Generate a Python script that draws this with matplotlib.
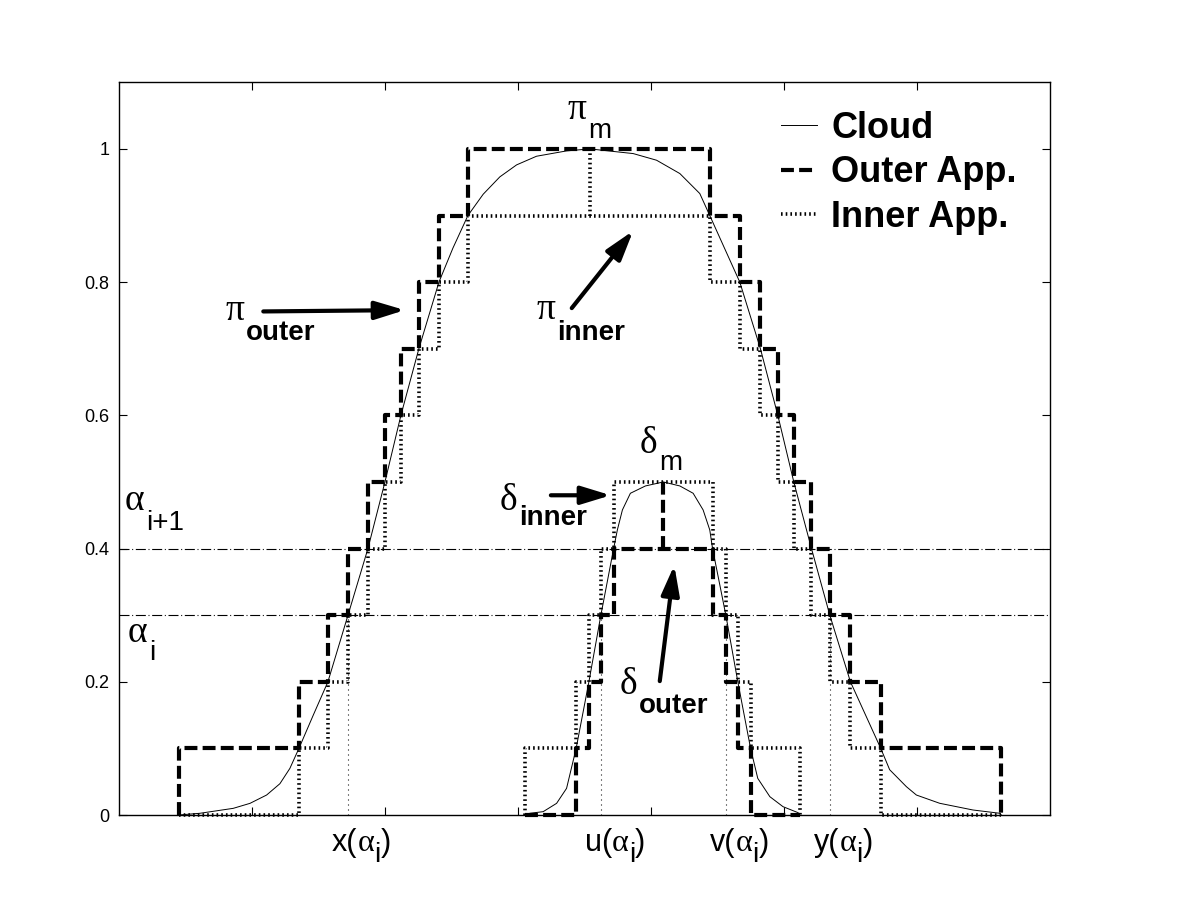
import matplotlib
matplotlib.use('Agg')
import matplotlib.pyplot as plt
from matplotlib.font_manager import FontProperties

# 절단 레벨 (0.1 간격)
levels_big = [0.0, 0.1, 0.2, 0.3, 0.4, 0.5, 0.6, 0.7, 0.8, 0.9]
levels_small = [0.0, 0.1, 0.2, 0.3, 0.4]

# 큰 구름(pi) : 각 레벨에서 곡선이 지나는 왼쪽/오른쪽 x
big_left = [0.449, 1.351, 1.569, 1.720, 1.870, 1.998, 2.118, 2.253, 2.404, 2.622]
big_right = [6.634, 5.727, 5.499, 5.344, 5.206, 5.073, 4.953, 4.822, 4.667, 4.441]
big_peak_x = 3.539
big_top = 1.0

# 작은 구름(delta)
small_left = [3.054, 3.436, 3.532, 3.622, 3.718]
small_right = [5.118, 4.748, 4.652, 4.562, 4.462]
small_peak_x = 4.092
small_top = 0.5

# 곡선 자체 (그림에서 읽은 점)
big_curve_x = [0.449, 0.607, 0.857, 0.983, 1.108, 1.208, 1.283, 1.351, 1.459, 1.569,
               1.720, 1.870, 1.998, 2.118, 2.253, 2.404, 2.509, 2.622, 2.737, 2.862,
               2.988, 3.138, 3.364, 3.539, 3.865, 4.041, 4.216, 4.366, 4.441, 4.667,
               4.822, 4.953, 5.073, 5.206, 5.344, 5.499, 5.727, 5.794, 5.920, 5.995,
               6.170, 6.421, 6.622, 6.634]
big_curve_y = [0.0, 0.0026, 0.010, 0.0175, 0.030, 0.047, 0.070, 0.1, 0.150, 0.2,
               0.3, 0.4, 0.5, 0.6, 0.7, 0.8, 0.851, 0.9, 0.932, 0.958,
               0.976, 0.989, 0.997, 1.0, 0.993, 0.983, 0.963, 0.933, 0.9, 0.8,
               0.7, 0.6, 0.5, 0.4, 0.3, 0.2, 0.1, 0.068, 0.0425, 0.030,
               0.0176, 0.0075, 0.0026, 0.0]
small_curve_x = [3.054, 3.088, 3.188, 3.289, 3.364, 3.436, 3.532, 3.622, 3.718, 3.746,
                 3.784, 3.844, 3.957, 4.092, 4.216, 4.316, 4.391, 4.441, 4.462, 4.562,
                 4.652, 4.748, 4.802, 4.893, 4.992, 5.105, 5.118]
small_curve_y = [0.0, 0.0026, 0.005, 0.0175, 0.04, 0.1, 0.2, 0.3, 0.4, 0.428,
                 0.458, 0.483, 0.494, 0.5, 0.494, 0.483, 0.458, 0.428, 0.4, 0.3,
                 0.2, 0.1, 0.055, 0.0275, 0.0125, 0.0035, 0.0]

alpha_i = 0.3
alpha_i1 = 0.4
cut_x = [1.720, 3.622, 4.562, 5.344]
cut_names = ['x', 'u', 'v', 'y']

y_ticks = [0, 0.2, 0.4, 0.6, 0.8, 1.0]
y_tick_labels = ['0', '0.2', '0.4', '0.6', '0.8', '1']
x_ticks = [1, 2, 3, 4, 5, 6]

SANS = ['Liberation Sans', 'DejaVu Sans']
SERIF = ['Liberation Serif', 'DejaVu Serif']


def upper_steps(left, right, lv, top):
    lv2 = list(lv) + [top]
    xs, ys = [], []
    for k in range(len(lv)):
        xs += [left[k], left[k]]
        ys += [lv2[k], lv2[k + 1]]
    for k in reversed(range(len(lv))):
        xs += [right[k], right[k]]
        ys += [lv2[k + 1], lv2[k]]
    return xs, ys


def lower_steps(left, right, lv):
    xs, ys = [left[0]], [lv[0]]
    for k in range(1, len(lv)):
        xs += [left[k], left[k]]
        ys += [lv[k - 1], lv[k]]
    for k in reversed(range(1, len(lv))):
        xs += [right[k], right[k]]
        ys += [lv[k], lv[k - 1]]
    xs.append(right[0])
    ys.append(lv[0])
    return xs, ys


dash_style = dict(color='k', lw=3.0, linestyle=(0, (3.1, 1.25)), clip_on=False)
dot_style = dict(color='k', lw=2.6, linestyle=(0, (0.45, 0.85)), clip_on=False)

fig = plt.figure(figsize=(12.01, 9.0), dpi=100)
ax = fig.add_axes([119.3 / 1201, 85 / 900, 930.7 / 1201, 732.7 / 900])

# 알파 절단선
ax.axhline(alpha_i1, color='k', lw=0.8, linestyle=(0, (9, 2.4, 0.9, 2.4)))
ax.axhline(alpha_i, color='k', lw=0.8, linestyle=(0, (9, 2.4, 0.9, 2.4)))

# 구름 곡선
cloud_line, = ax.plot(big_curve_x, big_curve_y, color='k', lw=0.7)
ax.plot(small_curve_x, small_curve_y, color='k', lw=0.7)

# 큰 구름: 바깥 근사(굵은 점선) / 안쪽 근사(점)
xs, ys = upper_steps(big_left, big_right, levels_big, big_top)
outer_line, = ax.plot(xs, ys, **dash_style)
xs, ys = lower_steps(big_left, big_right, levels_big)
inner_line, = ax.plot(xs, ys, **dot_style)
ax.plot([big_peak_x, big_peak_x], [levels_big[-1], big_top], **dot_style)

# 작은 구름: 위쪽 계단은 점, 아래쪽 계단은 굵은 점선
xs, ys = upper_steps(small_left, small_right, levels_small, small_top)
ax.plot(xs, ys, **dot_style)
xs, ys = lower_steps(small_left, small_right, levels_small)
ax.plot(xs, ys, **dash_style)
ax.plot([small_peak_x, small_peak_x], [levels_small[-1], small_top], **dash_style)

# x(alpha_i) 등 표시선
for cx in cut_x:
    ax.plot([cx, cx], [0, alpha_i], color='k', lw=0.8, linestyle=(0, (0.9, 3.6)))

ax.set_xlim(0, 7)
ax.set_ylim(0, 1.1)
ax.set_xticks(x_ticks)
ax.set_xticklabels([])
ax.set_yticks(y_ticks)
ax.set_yticklabels(y_tick_labels, fontfamily=SANS, fontsize=13)
ax.tick_params(direction='in', length=6, width=0.8, top=True, right=True, pad=7)
for sp in ax.spines.values():
    sp.set_linewidth(1.0)

# 범례
leg = ax.legend([cloud_line, outer_line, inner_line], ['Cloud', 'Outer App.', 'Inner App.'],
                loc='upper left', bbox_to_anchor=(0.7105, 0.961), frameon=False,
                prop=FontProperties(family=SANS, weight='bold', size=26),
                handlelength=1.0, handletextpad=0.4, labelspacing=0.26,
                borderpad=0, borderaxespad=0)


def greek_sub(x, y, g, sub, dy, gsize=27, ssize=20, bold=True, dx=1):
    t = ax.text(x, y, g, fontfamily=SERIF, fontsize=gsize, ha='left', va='baseline')
    ax.annotate(sub, xy=(1, y), xycoords=(t, 'data'), xytext=(dx, -dy),
                textcoords='offset points', ha='left', va='baseline',
                fontfamily=SANS, fontsize=ssize,
                fontweight='bold' if bold else 'normal', annotation_clip=False)


greek_sub(3.374, 1.045, 'π', 'm', 13.7, bold=False)
greek_sub(0.795, 0.743, 'π', 'outer', 14.4)
greek_sub(3.141, 0.745, 'π', 'inner', 15.2)
greek_sub(3.915, 0.5435, 'δ', 'm', 12.2, bold=False)
greek_sub(2.862, 0.458, 'δ', 'inner', 11)
greek_sub(3.765, 0.182, 'δ', 'outer', 13.7)
greek_sub(0.043, 0.458, 'α', 'i+1', 14.4, bold=False)
greek_sub(0.065, 0.260, 'α', 'i', 13, bold=False)

# 화살표
arrow = dict(arrowstyle='-|>,head_length=1.8,head_width=0.55', color='k', lw=3,
             mutation_scale=10, shrinkA=0, shrinkB=0)
ax.annotate('', xy=(2.148, 0.758), xytext=(1.083, 0.756), arrowprops=arrow)
ax.annotate('', xy=(3.865, 0.877), xytext=(3.403, 0.761), arrowprops=arrow)
ax.annotate('', xy=(3.697, 0.480), xytext=(3.246, 0.480), arrowprops=arrow)
ax.annotate('', xy=(4.174, 0.375), xytext=(4.065, 0.201), arrowprops=arrow)

# 축 아래 라벨 x(alpha_i) ...
for cx, name in zip(cut_x, cut_names):
    t1 = ax.text(cx - 0.12, -0.054, name + '(', fontfamily=SANS, fontsize=22,
                 ha='left', va='baseline')
    t2 = ax.annotate('α', xy=(1, -0.054), xycoords=(t1, 'data'), xytext=(0, 0),
                     textcoords='offset points', ha='left', va='baseline',
                     fontfamily=SERIF, fontsize=23, annotation_clip=False)
    t3 = ax.annotate('i', xy=(1, -0.054), xycoords=(t2, 'data'), xytext=(0, -8),
                     textcoords='offset points', ha='left', va='baseline',
                     fontfamily=SANS, fontsize=20, annotation_clip=False)
    ax.annotate(')', xy=(1, -0.054), xycoords=(t3, 'data'), xytext=(0, 0),
                textcoords='offset points', ha='left', va='baseline',
                fontfamily=SANS, fontsize=22, annotation_clip=False)

fig.savefig('out.png', dpi=100)
